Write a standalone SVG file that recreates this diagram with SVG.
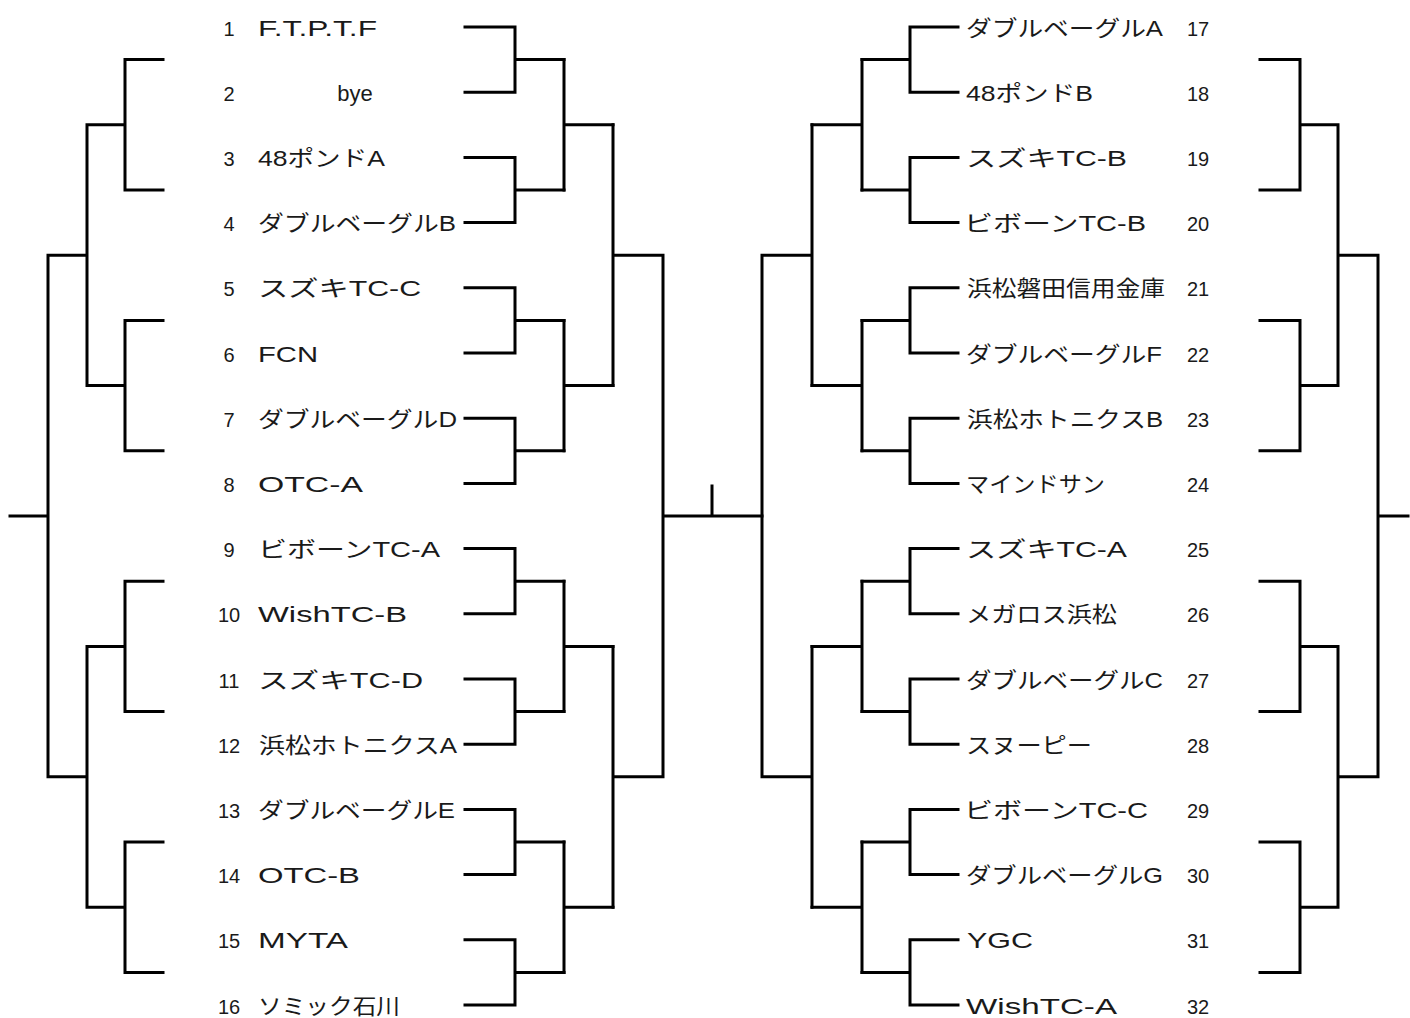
<svg xmlns="http://www.w3.org/2000/svg" width="1410" height="1018" viewBox="0 0 1410 1018">
<style>
.ln{fill:none;stroke:#000;stroke-width:3;stroke-linecap:square;stroke-linejoin:miter}
.nm{font-family:"Liberation Sans","Noto Sans CJK JP",sans-serif;font-size:22px;fill:#1a1a1a}
.no{font-family:"Liberation Sans",Arial,sans-serif;font-size:20px;fill:#1a1a1a;text-anchor:middle}
</style>
<rect width="1410" height="1018" fill="#fff"/>
<g id="connectors" class="ln">
<path d="M465 27H515V92.2H465M515 59.6H564M465 157.4H515V222.6H465M515 190H564M465 287.8H515V353H465M515 320.4H564M465 418.2H515V483.4H465M515 450.8H564M465 548.6H515V613.8H465M515 581.2H564M465 679H515V744.2H465M515 711.6H564M465 809.4H515V874.6H465M515 842H564M465 939.8H515V1005H465M515 972.4H564"/>
<path d="M564 59.6V190M564 124.8H613M564 320.4V450.8M564 385.6H613M564 581.2V711.6M564 646.4H613M564 842V972.4M564 907.2H613"/>
<path d="M613 124.8V385.6M613 255.2H663M613 646.4V907.2M613 776.8H663M663 255.2V776.8M663 516H762M712 486V516"/>
<path d="M958 27H910V92.2H958M910 59.6H862M958 157.4H910V222.6H958M910 190H862M958 287.8H910V353H958M910 320.4H862M958 418.2H910V483.4H958M910 450.8H862M958 548.6H910V613.8H958M910 581.2H862M958 679H910V744.2H958M910 711.6H862M958 809.4H910V874.6H958M910 842H862M958 939.8H910V1005H958M910 972.4H862"/>
<path d="M862 59.6V190M862 124.8H812M862 320.4V450.8M862 385.6H812M862 581.2V711.6M862 646.4H812M862 842V972.4M862 907.2H812"/>
<path d="M812 124.8V385.6M812 255.2H762M812 646.4V907.2M812 776.8H762M762 255.2V776.8"/>
<path d="M163 59.6H125V190H163M125 124.8H87M163 320.4H125V450.8H163M125 385.6H87M163 581.2H125V711.6H163M125 646.4H87M163 842H125V972.4H163M125 907.2H87M87 124.8V385.6M87 255.2H48M87 646.4V907.2M87 776.8H48M48 255.2V776.8M48 516H10"/>
<path d="M1260 59.6H1300V190H1260M1300 124.8H1338M1260 320.4H1300V450.8H1260M1300 385.6H1338M1260 581.2H1300V711.6H1260M1300 646.4H1338M1260 842H1300V972.4H1260M1300 907.2H1338M1338 124.8V385.6M1338 255.2H1378M1338 646.4V907.2M1338 776.8H1378M1378 255.2V776.8M1378 516H1408"/>
</g>
<g id="t1"><text class="no" x="229" y="35.5">1</text><text class="nm" x="258" y="35.5" textLength="119" lengthAdjust="spacingAndGlyphs">F.T.P.T.F</text></g>
<g id="t2"><text class="no" x="229" y="100.7">2</text><text class="nm" x="355" y="100.7" text-anchor="middle">bye</text></g>
<g id="t3"><text class="no" x="229" y="165.9">3</text><text class="nm" x="258" y="165.9" textLength="127" lengthAdjust="spacingAndGlyphs">48ポンドA</text></g>
<g id="t4"><text class="no" x="229" y="231.1">4</text><text class="nm" x="258" y="231.1" textLength="198" lengthAdjust="spacingAndGlyphs">ダブルベーグルB</text></g>
<g id="t5"><text class="no" x="229" y="296.3">5</text><text class="nm" x="258" y="296.3" textLength="163" lengthAdjust="spacingAndGlyphs">スズキTC-C</text></g>
<g id="t6"><text class="no" x="229" y="361.5">6</text><text class="nm" x="258" y="361.5" textLength="60" lengthAdjust="spacingAndGlyphs">FCN</text></g>
<g id="t7"><text class="no" x="229" y="426.7">7</text><text class="nm" x="258" y="426.7" textLength="199" lengthAdjust="spacingAndGlyphs">ダブルベーグルD</text></g>
<g id="t8"><text class="no" x="229" y="491.9">8</text><text class="nm" x="258" y="491.9" textLength="105" lengthAdjust="spacingAndGlyphs">OTC-A</text></g>
<g id="t9"><text class="no" x="229" y="557.1">9</text><text class="nm" x="258" y="557.1" textLength="182" lengthAdjust="spacingAndGlyphs">ビボーンTC-A</text></g>
<g id="t10"><text class="no" x="229" y="622.3">10</text><text class="nm" x="258" y="622.3" textLength="149" lengthAdjust="spacingAndGlyphs">WishTC-B</text></g>
<g id="t11"><text class="no" x="229" y="687.5">11</text><text class="nm" x="258" y="687.5" textLength="165" lengthAdjust="spacingAndGlyphs">スズキTC-D</text></g>
<g id="t12"><text class="no" x="229" y="752.7">12</text><text class="nm" x="259" y="752.7" textLength="198" lengthAdjust="spacingAndGlyphs">浜松ホトニクスA</text></g>
<g id="t13"><text class="no" x="229" y="817.9">13</text><text class="nm" x="258" y="817.9" textLength="197" lengthAdjust="spacingAndGlyphs">ダブルベーグルE</text></g>
<g id="t14"><text class="no" x="229" y="883.1">14</text><text class="nm" x="258" y="883.1" textLength="102" lengthAdjust="spacingAndGlyphs">OTC-B</text></g>
<g id="t15"><text class="no" x="229" y="948.3">15</text><text class="nm" x="258" y="948.3" textLength="90" lengthAdjust="spacingAndGlyphs">MYTA</text></g>
<g id="t16"><text class="no" x="229" y="1013.5">16</text><text class="nm" x="258" y="1013.5" textLength="142" lengthAdjust="spacingAndGlyphs">ソミック石川</text></g>
<g id="t17"><text class="nm" x="966" y="35.5" textLength="197" lengthAdjust="spacingAndGlyphs">ダブルベーグルA</text><text class="no" x="1198" y="35.5">17</text></g>
<g id="t18"><text class="nm" x="966" y="100.7" textLength="127" lengthAdjust="spacingAndGlyphs">48ポンドB</text><text class="no" x="1198" y="100.7">18</text></g>
<g id="t19"><text class="nm" x="966" y="165.9" textLength="161" lengthAdjust="spacingAndGlyphs">スズキTC-B</text><text class="no" x="1198" y="165.9">19</text></g>
<g id="t20"><text class="nm" x="964" y="231.1" textLength="182" lengthAdjust="spacingAndGlyphs">ビボーンTC-B</text><text class="no" x="1198" y="231.1">20</text></g>
<g id="t21"><text class="nm" x="967" y="296.3" textLength="198" lengthAdjust="spacingAndGlyphs">浜松磐田信用金庫</text><text class="no" x="1198" y="296.3">21</text></g>
<g id="t22"><text class="nm" x="966" y="361.5" textLength="196" lengthAdjust="spacingAndGlyphs">ダブルベーグルF</text><text class="no" x="1198" y="361.5">22</text></g>
<g id="t23"><text class="nm" x="967" y="426.7" textLength="196" lengthAdjust="spacingAndGlyphs">浜松ホトニクスB</text><text class="no" x="1198" y="426.7">23</text></g>
<g id="t24"><text class="nm" x="966" y="491.9" textLength="139" lengthAdjust="spacingAndGlyphs">マインドサン</text><text class="no" x="1198" y="491.9">24</text></g>
<g id="t25"><text class="nm" x="966" y="557.1" textLength="161" lengthAdjust="spacingAndGlyphs">スズキTC-A</text><text class="no" x="1198" y="557.1">25</text></g>
<g id="t26"><text class="nm" x="966" y="622.3" textLength="151" lengthAdjust="spacingAndGlyphs">メガロス浜松</text><text class="no" x="1198" y="622.3">26</text></g>
<g id="t27"><text class="nm" x="966" y="687.5" textLength="197" lengthAdjust="spacingAndGlyphs">ダブルベーグルC</text><text class="no" x="1198" y="687.5">27</text></g>
<g id="t28"><text class="nm" x="966" y="752.7" textLength="126" lengthAdjust="spacingAndGlyphs">スヌーピー</text><text class="no" x="1198" y="752.7">28</text></g>
<g id="t29"><text class="nm" x="964" y="817.9" textLength="184" lengthAdjust="spacingAndGlyphs">ビボーンTC-C</text><text class="no" x="1198" y="817.9">29</text></g>
<g id="t30"><text class="nm" x="966" y="883.1" textLength="197" lengthAdjust="spacingAndGlyphs">ダブルベーグルG</text><text class="no" x="1198" y="883.1">30</text></g>
<g id="t31"><text class="nm" x="967" y="948.3" textLength="66" lengthAdjust="spacingAndGlyphs">YGC</text><text class="no" x="1198" y="948.3">31</text></g>
<g id="t32"><text class="nm" x="966" y="1013.5" textLength="151" lengthAdjust="spacingAndGlyphs">WishTC-A</text><text class="no" x="1198" y="1013.5">32</text></g>
</svg>
